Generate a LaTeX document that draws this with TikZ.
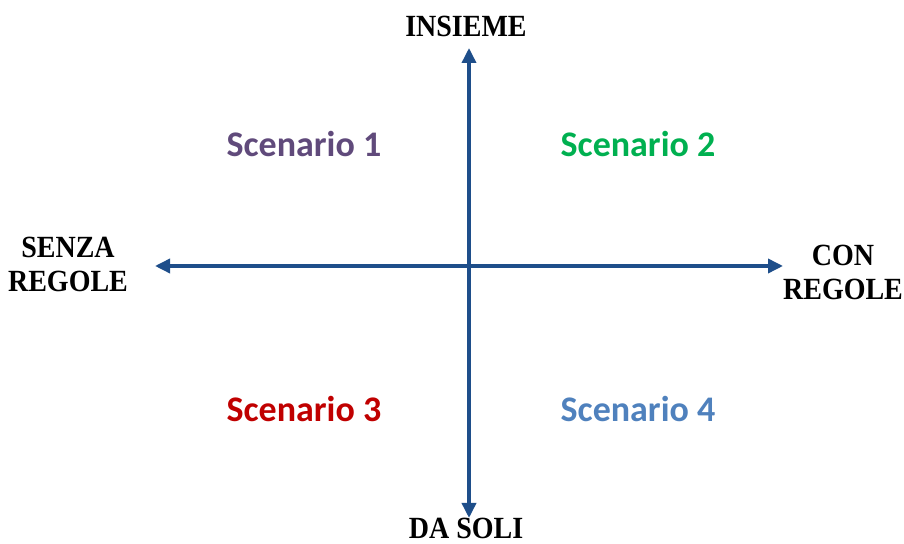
\documentclass[tikz,border=0pt]{standalone}
\usepackage{fontspec}
\setmainfont{Liberation Serif}
\newfontfamily\scfont{Carlito}
\usetikzlibrary{arrows.meta}
\definecolor{axisblue}{RGB}{30,78,138}
\definecolor{sc1}{RGB}{96,74,123}
\definecolor{sc2}{RGB}{0,176,80}
\definecolor{sc3}{RGB}{192,0,0}
\definecolor{sc4}{RGB}{79,129,189}
\tikzset{
  axislabel/.style={font=\fontsize{28}{34}\selectfont\bfseries, align=center, inner sep=0pt},
  sclabel/.style={font=\scfont\fontsize{36}{40}\selectfont\bfseries, inner sep=0pt},
  axisline/.style={draw=axisblue, line width=3.5pt, -{Triangle[length=15pt,width=14pt]}}
}
\begin{document}
\begin{tikzpicture}[x=1pt,y=1pt]
\useasboundingbox (0,0) rectangle (904,543);
\coordinate (c) at (469,277);
\coordinate (top) at (469,495);
\coordinate (bot) at (469,25);
\coordinate (lft) at (155,277);
\coordinate (rgt) at (783,277);
\draw[axisline] (c) -- (top);
\draw[axisline] (c) -- (bot);
\draw[axisline] (c) -- (lft);
\draw[axisline] (c) -- (rgt);
\node[axislabel] (insieme) at (466,517) {\scalebox{1}[1.1]{INSIEME}};
\node[axislabel] (dasoli) at (466,15) {\scalebox{1}[1.1]{DA SOLI}};
\node[axislabel] (senza) at (68,279) {\scalebox{1}[1.1]{SENZA}\\\scalebox{1}[1.1]{REGOLE}};
\node[axislabel] (con) at (843,271) {\scalebox{1}[1.1]{CON}\\\scalebox{1}[1.1]{REGOLE}};
\node[sclabel, text=sc1] (s1) at (304,399) {Scenario 1};
\node[sclabel, text=sc2] (s2) at (638,399) {Scenario 2};
\node[sclabel, text=sc3] (s3) at (304,134) {Scenario 3};
\node[sclabel, text=sc4] (s4) at (638,134) {Scenario 4};
\end{tikzpicture}
\end{document}
